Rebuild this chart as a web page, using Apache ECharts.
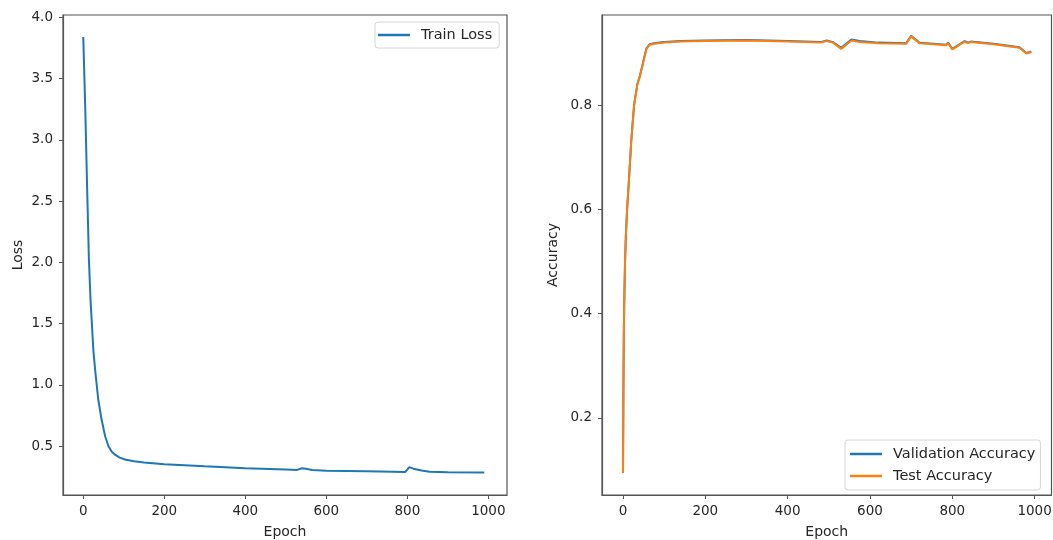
<!DOCTYPE html>
<html>
<head>
<meta charset="utf-8">
<script src="https://cdn.jsdelivr.net/npm/echarts@6/dist/echarts.min.js"></script>
<style>html,body{margin:0;padding:0;background:#fff}#c{width:1053px;height:540px}</style>
</head>
<body>
<div id="c"></div>
<script>
// ---- Data ----
const lossEpochs = [0, 5, 10, 14, 18, 25, 30, 37, 45, 54, 62, 70, 80, 90, 103, 125, 150, 200, 250, 300, 400, 500, 528, 540, 550, 565, 600, 700, 795, 805, 815, 835, 855, 900, 990];
const trainLoss  = [3.84, 3.25, 2.55, 2.02, 1.69, 1.28, 1.10, 0.88, 0.72, 0.58, 0.50, 0.455, 0.425, 0.405, 0.39, 0.375, 0.365, 0.352, 0.343, 0.334, 0.318, 0.308, 0.305, 0.318, 0.315, 0.304, 0.298, 0.293, 0.288, 0.328, 0.315, 0.300, 0.289, 0.285, 0.283];

const accEpochs = [0, 1, 2, 3, 5, 7, 10, 16, 20, 27, 35, 41, 50, 57, 65, 75, 100, 140, 200, 300, 400, 480, 495, 510, 530, 555, 575, 620, 688, 700, 720, 785, 790, 800, 830, 838, 845, 900, 963, 980, 992];
const valAcc  = [0.094, 0.25, 0.36, 0.42, 0.50, 0.55, 0.60, 0.676, 0.731, 0.801, 0.841, 0.856, 0.886, 0.909, 0.917, 0.919, 0.921, 0.923, 0.924, 0.925, 0.923, 0.921, 0.924, 0.921, 0.910, 0.926, 0.923, 0.920, 0.919, 0.933, 0.920, 0.916, 0.920, 0.908, 0.923, 0.920, 0.922, 0.918, 0.911, 0.900, 0.903];
const testAcc = [0.094, 0.25, 0.36, 0.42, 0.50, 0.55, 0.60, 0.675, 0.730, 0.800, 0.840, 0.855, 0.885, 0.908, 0.916, 0.918, 0.920, 0.922, 0.923, 0.924, 0.922, 0.920, 0.923, 0.920, 0.908, 0.924, 0.921, 0.919, 0.918, 0.932, 0.919, 0.915, 0.919, 0.907, 0.922, 0.919, 0.921, 0.917, 0.910, 0.899, 0.902];

const epochTicks = [0, 200, 400, 600, 800, 1000];
const lossTicks = [0.5, 1.0, 1.5, 2.0, 2.5, 3.0, 3.5, 4.0];
const accTicks = [0.2, 0.4, 0.6, 0.8];

// ---- Chart ----
const FONT = 'DejaVu Sans';
const TXT = '#262626';
const AX = '#555';
const chart = echarts.init(document.getElementById('c'), null, {renderer: 'canvas'});

function xAxisDef(grid, min, max) {
  return {
    type: 'value', gridIndex: grid, min: min, max: max,
    name: 'Epoch', nameLocation: 'middle', nameGap: 30,
    nameTextStyle: {fontFamily: FONT, fontSize: 14, color: TXT},
    axisLine: {show: true, onZero: false, lineStyle: {color: AX, width: 1.2}},
    axisTick: {show: true, length: 4, customValues: epochTicks, lineStyle: {color: AX, width: 1}},
    axisLabel: {customValues: epochTicks, fontFamily: FONT, fontSize: 13.5, color: TXT, margin: 9,
      formatter: v => String(v)},
    splitLine: {show: false}
  };
}
function yAxisDef(grid, min, max, name, ticks, gap) {
  return {
    type: 'value', gridIndex: grid, min: min, max: max,
    name: name, nameLocation: 'middle', nameGap: gap,
    nameTextStyle: {fontFamily: FONT, fontSize: 14, color: TXT},
    axisLine: {show: true, onZero: false, lineStyle: {color: AX, width: 1.2}},
    axisTick: {show: true, length: 4, customValues: ticks, lineStyle: {color: AX, width: 1}},
    axisLabel: {customValues: ticks, fontFamily: FONT, fontSize: 13.5, color: TXT, margin: 10,
      formatter: v => Number(v).toFixed(1)},
    splitLine: {show: false}
  };
}

const legendCommon = {
  orient: 'vertical', icon: 'rect', itemWidth: 32, itemHeight: 2.5,
  borderColor: '#d6d6d6', borderWidth: 1, borderRadius: 3, backgroundColor: '#fff',
  textStyle: {fontFamily: FONT, fontSize: 14.5, color: TXT, lineHeight: 16, padding: [0, 0, 0, 6]}
};

const option = {
  animation: false,
  backgroundColor: '#fff',
  grid: [
    {left: 63, right: 546, top: 15, bottom: 45, show: true, borderColor: AX, borderWidth: 1.2,
      containLabel: false, outerBoundsMode: 'none'},
    {left: 602, right: 1.5, top: 15, bottom: 45, show: true, borderColor: AX, borderWidth: 1.2,
      containLabel: false, outerBoundsMode: 'none'}
  ],
  xAxis: [xAxisDef(0, -50, 1046), xAxisDef(1, -51, 1041)],
  yAxis: [
    yAxisDef(0, 0.10, 4.02, 'Loss', lossTicks, 38),
    yAxisDef(1, 0.052, 0.973, 'Accuracy', accTicks, 42)
  ],
  legend: [
    Object.assign({}, legendCommon, {
      data: ['Train Loss'], left: 375, top: 22, padding: [5, 7, 5, 3]
    }),
    Object.assign({}, legendCommon, {
      data: ['Validation Accuracy', 'Test Accuracy'], left: 845, top: 440, itemGap: 6, padding: [6, 5, 6, 5]
    })
  ],
  series: [
    {
      name: 'Train Loss', type: 'line', xAxisIndex: 0, yAxisIndex: 0,
      data: lossEpochs.map((e, i) => [e, trainLoss[i]]),
      symbol: 'none', color: '#1f77b4', lineStyle: {width: 2, color: '#1f77b4'}
    },
    {
      name: 'Validation Accuracy', type: 'line', xAxisIndex: 1, yAxisIndex: 1,
      data: accEpochs.map((e, i) => [e, valAcc[i]]),
      symbol: 'none', color: '#1f77b4', lineStyle: {width: 2, color: '#1f77b4'}
    },
    {
      name: 'Test Accuracy', type: 'line', xAxisIndex: 1, yAxisIndex: 1,
      data: accEpochs.map((e, i) => [e, testAcc[i]]),
      symbol: 'none', color: '#ff7f0e', lineStyle: {width: 2, color: '#ff7f0e'}
    }
  ]
};
chart.setOption(option);
</script>
</body>
</html>
